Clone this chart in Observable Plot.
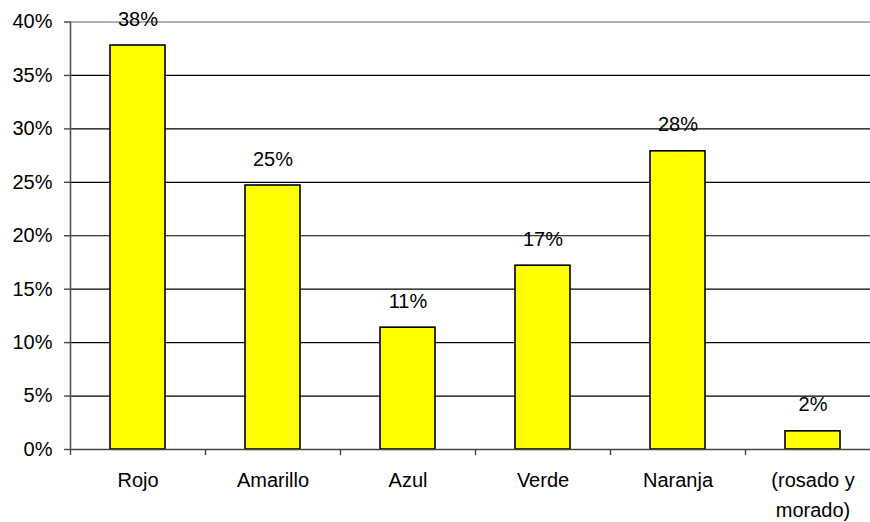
<!DOCTYPE html>
<html>
<head>
<meta charset="utf-8">
<script src="https://cdn.jsdelivr.net/npm/d3@7"></script>
<script src="https://cdn.jsdelivr.net/npm/@observablehq/plot@0.6"></script>
<style>
  html, body { margin: 0; padding: 0; background: white; }
</style>
</head>
<body>
<div id="chart"></div>
<script>
const categories = ["Rojo", "Amarillo", "Azul", "Verde", "Naranja", "(rosado y\nmorado)"];
const values = [37.8, 24.7, 11.4, 17.2, 27.9, 1.7];
const valueLabels = ["38%", "25%", "11%", "17%", "28%", "2%"];
const yTicks = [0, 5, 10, 15, 20, 25, 30, 35, 40];

const data = categories.map((c, i) => ({cat: c, value: values[i], label: valueLabels[i]}));
const halfBand = (880 - 70) / categories.length / 2;

const chart = Plot.plot({
  width: 870,
  height: 522,
  marginLeft: 70,
  marginRight: 0,
  marginTop: 21.5,
  marginBottom: 73,
  style: {fontFamily: "'Liberation Sans', Arial, sans-serif", fontSize: "20px", background: "white", color: "black"},
  x: {domain: categories, range: [70, 880], padding: 0, axis: null},
  y: {domain: [0, 40], axis: null, label: null},
  marks: [
    Plot.ruleY(yTicks.filter(t => t > 0 && t < 40), {stroke: "black", strokeWidth: 1.2}),
    Plot.ruleY([40], {stroke: "#999", strokeWidth: 1.6}),
    Plot.barY(data, {x: "cat", y: "value", fill: "#FFFF00", stroke: "black", strokeWidth: 1.6, insetLeft: 40, insetRight: 40}),
    Plot.ruleY([0], {stroke: "#444", strokeWidth: 1.6}),
    Plot.ruleX([categories[0]], {x: d => d, dx: -halfBand, stroke: "#555", strokeWidth: 1.6}),
    Plot.ruleX(categories, {x: d => d, dx: -halfBand, y1: d => 0, y2: d => 0, insetBottom: -6, stroke: "#444", strokeWidth: 1.4}),
    Plot.axisY({ticks: yTicks, label: null, tickSize: 6, tickPadding: 12, tickFormat: d => d + "%", fontSize: 20, stroke: "#444", strokeWidth: 1.4, fill: "black"}),
    Plot.text(data, {x: "cat", y: "value", text: "label", lineAnchor: "bottom", dy: -20, fontSize: 20, fill: "black"}),
    Plot.text(categories, {x: d => d, frameAnchor: "bottom", lineAnchor: "top", dy: 16, lineHeight: 1.5, fontSize: 20, fill: "black"})
  ]
});
document.getElementById("chart").appendChild(chart);
</script>
</body>
</html>
